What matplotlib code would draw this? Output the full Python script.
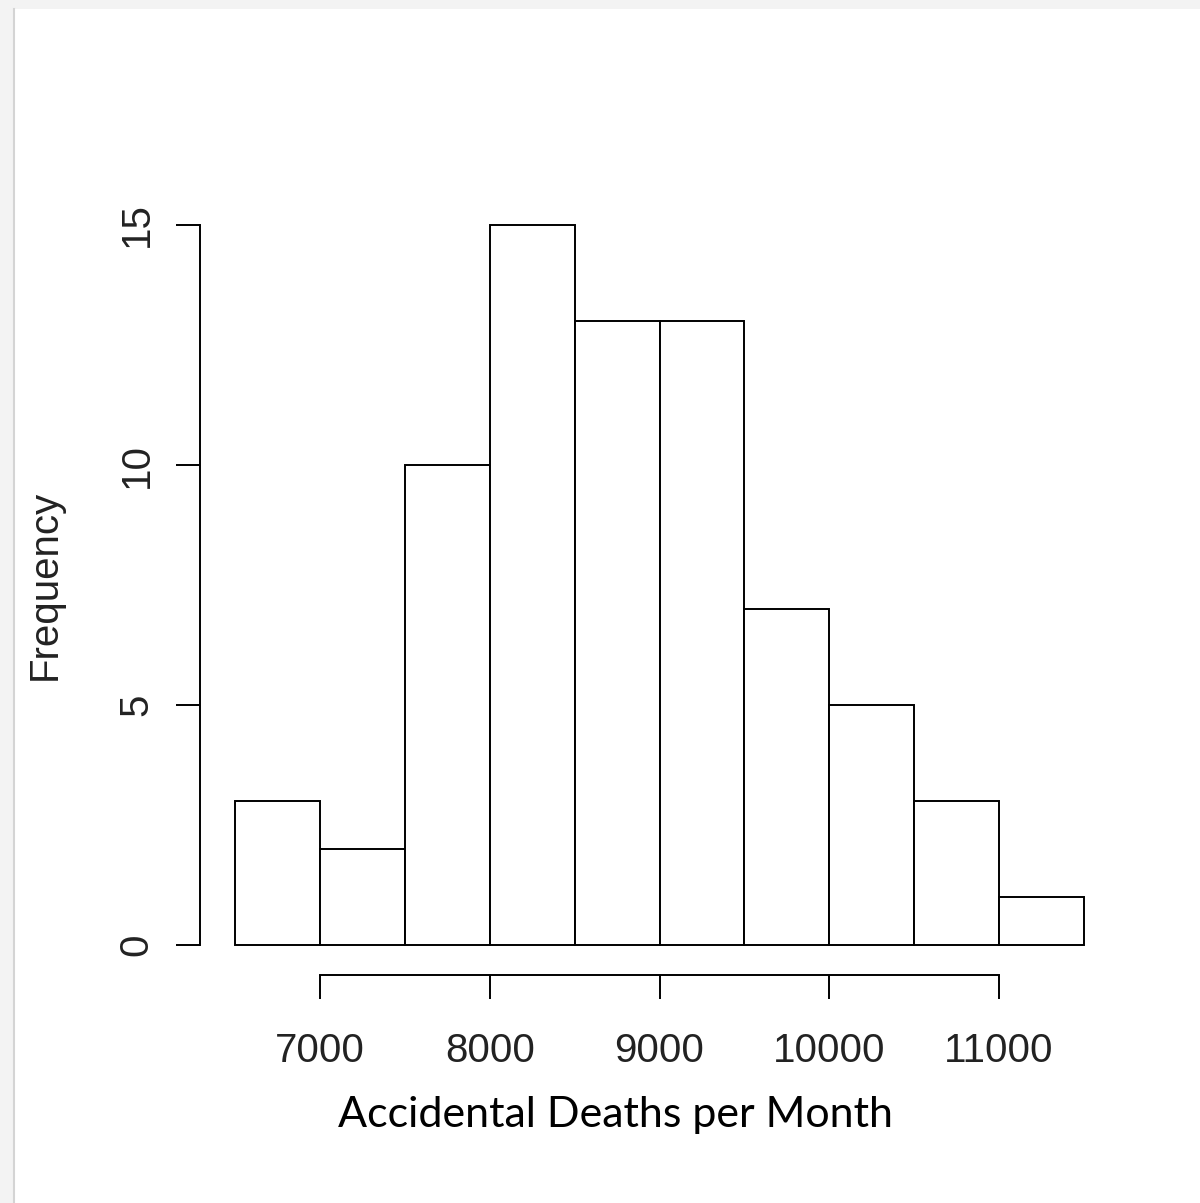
import matplotlib.pyplot as plt
import numpy as np
from matplotlib.patches import Rectangle
from matplotlib.lines import Line2D

# Istogramma dei decessi accidentali mensili (stile R base)
bin_edges = [6500, 7000, 7500, 8000, 8500, 9000, 9500, 10000, 10500, 11000, 11500]
counts = [3, 2, 10, 15, 13, 13, 7, 5, 3, 1]
x_ticks = [7000, 8000, 9000, 10000, 11000]
y_ticks = [0, 5, 10, 15]
x_label = "Accidental Deaths per Month"
y_label = "Frequency"

W, H = 1200, 1203
fig = plt.figure(figsize=(W / 100, H / 100), dpi=100)
fig.patch.set_facecolor("#f3f3f3")

# cornice bianca con leggera ombra a sinistra, come nello screenshot
fig.patches.append(Rectangle((14 / W, 0), 1 - 14 / W, 1 - 9 / H, transform=fig.transFigure,
                             facecolor="white", edgecolor="none", zorder=-2))
fig.lines.append(Line2D([13.5 / W, 13.5 / W], [0, 1 - 9 / H], transform=fig.transFigure,
                        color="#d4d4d4", linewidth=1.5, zorder=-1))

ax = fig.add_axes([200 / W, (H - 975) / H, 910 / W, (975 - 180) / H])
ax.set_facecolor("none")

edges = np.array(bin_edges)
ax.bar(edges[:-1], counts, width=np.diff(edges), align="edge",
       facecolor="white", edgecolor="black", linewidth=1.4)

ppu = (999 - 320) / 4000
ax.set_xlim(7000 - 120 / ppu, 7000 + 790 / ppu)
ax.set_ylim(-30 / 48, 765 / 48)

for side in ["top", "right"]:
    ax.spines[side].set_visible(False)
ax.spines["left"].set_bounds(0, 15)
ax.spines["bottom"].set_bounds(7000, 11000)
ax.spines["left"].set_linewidth(1.4)
ax.spines["bottom"].set_linewidth(1.4)

ax.set_xticks(x_ticks)
ax.set_yticks(y_ticks)
ax.set_yticklabels([str(t) for t in y_ticks], rotation=90, va="center")
ax.tick_params(axis="both", direction="out", length=17, width=1.4,
               labelsize=29, colors="black")
ax.tick_params(axis="x", pad=24)
ax.tick_params(axis="y", pad=15)
for lab in ax.get_xticklabels() + ax.get_yticklabels():
    lab.set_fontfamily("Liberation Sans")
    lab.set_color("#222222")

fig.text(45 / W, 1 - 585 / H, y_label, rotation=90, ha="center", va="center",
         fontsize=29, family="Liberation Sans", color="#222222")
fig.text(615 / W, 1 - 1115 / H, x_label, ha="center", va="center",
         fontsize=31, family="Lato", color="black")

fig.savefig("out.png", dpi=100, facecolor=fig.get_facecolor())
